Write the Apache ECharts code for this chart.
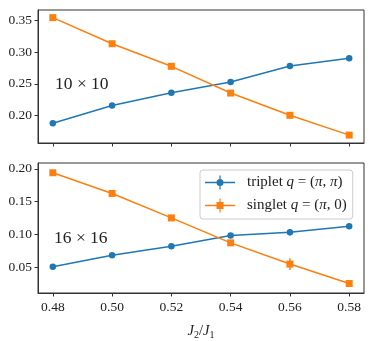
<!DOCTYPE html>
<html><head><meta charset="utf-8">
<script src="https://cdn.jsdelivr.net/npm/echarts@6/dist/echarts.min.js"></script>
<style>html,body{margin:0;padding:0;background:#fff}#c{width:374px;height:341px}</style>
</head><body><div id="c"></div>
<script>
const xValues = [0.48, 0.50, 0.52, 0.54, 0.56, 0.58];
const triplet10 = [0.188, 0.216, 0.236, 0.253, 0.278, 0.290];
const singlet10 = [0.354, 0.313, 0.2775, 0.2355, 0.2005, 0.1694];
const triplet10Err = [0.001, 0.001, 0.001, 0.001, 0.001, 0.001];
const singlet10Err = [0.001, 0.001, 0.001, 0.001, 0.001, 0.001];
const triplet16 = [0.0509, 0.0683, 0.0822, 0.0985, 0.1035, 0.1124];
const singlet16 = [0.194, 0.1625, 0.1252, 0.0872, 0.0549, 0.0252];
const triplet16Err = [0.001, 0.001, 0.002, 0.003, 0.005, 0.002];
const singlet16Err = [0.002, 0.002, 0.002, 0.004, 0.009, 0.002];
const xTicks = [0.48, 0.50, 0.52, 0.54, 0.56, 0.58];
const yTicks10 = [0.20, 0.25, 0.30, 0.35];
const yTicks16 = [0.05, 0.10, 0.15, 0.20];
const sizeLabels = ['10 × 10', '16 × 16'];

const BLUE = '#1f77b4', ORANGE = '#ff7f0e', AX = '#333';
const FONT = "'Liberation Serif', 'DejaVu Serif', serif";

function pts(ys, es) { return xValues.map((x, i) => es ? [x, ys[i], es[i]] : [x, ys[i]]); }

function errSeries(idx, ys, es, color) {
  return {
    type: 'custom', name: 'err' + idx + color, xAxisIndex: idx, yAxisIndex: idx, z: 1,
    data: pts(ys, es),
    renderItem: function (params, api) {
      const x = api.value(0), y = api.value(1), e = api.value(2);
      const p1 = api.coord([x, y - e]), p2 = api.coord([x, y + e]);
      return { type: 'line', shape: { x1: p1[0], y1: p1[1], x2: p2[0], y2: p2[1] },
        style: { stroke: color, lineWidth: 1.5 } };
    }
  };
}
function lineSeries(idx, name, ys, color, symbol, size) {
  return {
    type: 'line', name: name, xAxisIndex: idx, yAxisIndex: idx, z: 2,
    data: pts(ys), symbol: symbol, symbolSize: size, showSymbol: true,
    lineStyle: { color: color, width: 1.5 }, itemStyle: { color: color },
    animation: false
  };
}
function xAxis(idx, showLabel) {
  return {
    type: 'value', gridIndex: idx, min: 0.475, max: 0.585,
    axisLine: { show: true, lineStyle: { color: AX, width: 1 } },
    axisTick: { show: true, length: 3.5, lineStyle: { color: AX }, customValues: xTicks },
    axisLabel: { show: showLabel, customValues: xTicks, formatter: v => v.toFixed(2),
      fontFamily: FONT, fontSize: 13.5, color: '#222', margin: 7 },
    splitLine: { show: false },
    name: showLabel ? '{i|J}{s|2}{r|/}{i|J}{s|1}' : '',
    nameLocation: 'middle', nameGap: 30,
    nameTextStyle: { rich: {
      i: { fontFamily: FONT, fontStyle: 'italic', fontSize: 14.5, color: '#222' },
      r: { fontFamily: FONT, fontSize: 14.5, color: '#222' },
      s: { fontFamily: FONT, fontSize: 10, color: '#222', padding: [7, 0, 0, 0] }
    } }
  };
}
function yAxis(idx, min, max, ticks) {
  return {
    type: 'value', gridIndex: idx, min: min, max: max,
    axisLine: { show: true, lineStyle: { color: AX, width: 1 } },
    axisTick: { show: true, length: 3.5, lineStyle: { color: AX }, customValues: ticks },
    axisLabel: { customValues: ticks, formatter: v => v.toFixed(2),
      fontFamily: FONT, fontSize: 13.5, color: '#222', margin: 6 },
    splitLine: { show: false }
  };
}

const LF = 15;
const richLeg = {
  p: { fontFamily: FONT, fontSize: LF, color: '#222', padding: [0, 0, 0, 7] },
  r: { fontFamily: FONT, fontSize: LF, color: '#222' },
  i: { fontFamily: FONT, fontSize: LF, fontStyle: 'italic', color: '#222' }
};

const chart = echarts.init(document.getElementById('c'), null, { renderer: 'canvas' });
chart.setOption({
  animation: false,
  backgroundColor: '#fff',
  grid: [
    { left: 38, top: 10, width: 326, height: 133, show: true, borderColor: AX, borderWidth: 1, backgroundColor: 'transparent' },
    { left: 38, top: 163, width: 326, height: 134, show: true, borderColor: AX, borderWidth: 1, backgroundColor: 'transparent' }
  ],
  xAxis: [xAxis(0, false), xAxis(1, true)],
  yAxis: [yAxis(0, 0.157, 0.366, yTicks10), yAxis(1, 0.0108, 0.2089, yTicks16)],
  legend: {
    data: [
      { name: 'triplet', icon: 'path://M0 6.25H30V7.75H0Z M14.4 0H15.6V14H14.4Z M11.5 7A3.5 3.5 0 1 1 18.5 7A3.5 3.5 0 1 1 11.5 7Z' },
      { name: 'singlet', icon: 'path://M0 6.25H30V7.75H0Z M14.4 0H15.6V14H14.4Z M11.5 3.5H18.5V10.5H11.5Z' }
    ],
    orient: 'vertical', left: 200, top: 170,
    itemWidth: 30, itemHeight: 14, itemGap: 8,
    padding: [5, 6, 6, 5],
    backgroundColor: '#fff', borderColor: '#ccc', borderWidth: 1, borderRadius: 3,
    symbolKeepAspect: false,
    formatter: function (name) {
      if (name === 'triplet') return '{p|triplet }{i|q}{r| = (}{i|π}{r|, }{i|π}{r|)}';
      return '{p|singlet }{i|q}{r| = (}{i|π}{r|, 0)}';
    },
    textStyle: { rich: richLeg },
    selectedMode: false
  },
  graphic: [
    { type: 'text', x: 55, y: 84, style: { text: sizeLabels[0], font: '17.5px ' + FONT, fill: '#222', verticalAlign: 'middle' } },
    { type: 'text', x: 54, y: 238.5, style: { text: sizeLabels[1], font: '17.5px ' + FONT, fill: '#222', verticalAlign: 'middle' } }
  ],
  series: [
    errSeries(0, triplet10, triplet10Err, BLUE),
    errSeries(0, singlet10, singlet10Err, ORANGE),
    lineSeries(0, 'triplet', triplet10, BLUE, 'circle', 6.5),
    lineSeries(0, 'singlet', singlet10, ORANGE, 'rect', 7),
    errSeries(1, triplet16, triplet16Err, BLUE),
    errSeries(1, singlet16, singlet16Err, ORANGE),
    lineSeries(1, 'triplet', triplet16, BLUE, 'circle', 6.5),
    lineSeries(1, 'singlet', singlet16, ORANGE, 'rect', 7)
  ]
});
</script></body></html>
